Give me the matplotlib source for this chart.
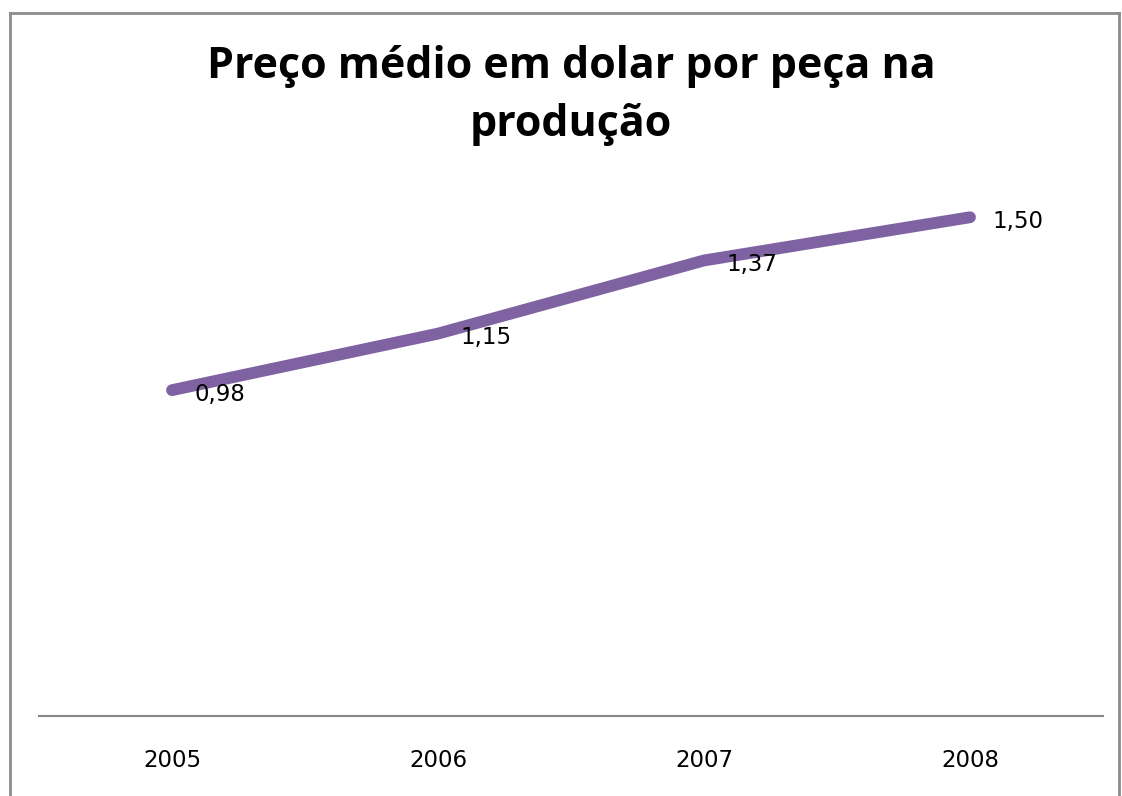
import matplotlib.pyplot as plt
from matplotlib.lines import Line2D

anos = ['2005', '2006', '2007', '2008']
precos = [0.98, 1.15, 1.37, 1.50]
rotulos = ['0,98', '1,15', '1,37', '1,50']

fig = plt.figure(figsize=(11.22, 7.96), dpi=100)
ax = fig.add_axes([39/1122, 80/796, 1064/1122, 532/796])

x = range(len(anos))
ax.plot(x, precos, color='#7E62A1', linewidth=8.5, solid_capstyle='round', solid_joinstyle='round')
for xi, yi, r in zip(x, precos, rotulos):
    ax.annotate(r, (xi, yi), xytext=(16, -3), textcoords='offset points',
                ha='left', va='center', fontsize=16.5, family='DejaVu Sans', color='black')

ax.set_xlim(-0.5, 3.5)
ax.set_ylim(0, 1.6)
ax.set_xticks(list(x))
ax.set_xticklabels(anos, fontsize=16.5, family='DejaVu Sans')
ax.tick_params(axis='x', length=0, pad=24)
ax.set_yticks([])
for s in ['top', 'right', 'left']:
    ax.spines[s].set_visible(False)
ax.spines['bottom'].set_color('#868686')
ax.spines['bottom'].set_linewidth(1.5)

fig.text(571/1122, 1 - 66/796, 'Preço médio em dolar por peça na', ha='center', va='center',
         fontsize=31, fontweight='bold', family='Open Sans')
fig.text(571/1122, 1 - 125/796, 'produção', ha='center', va='center',
         fontsize=31, fontweight='bold', family='Open Sans')

# moldura do gráfico
cor_borda = '#8C8C8C'
fig.add_artist(Line2D([9.5/1122, 9.5/1122], [0, 1 - 13/796], transform=fig.transFigure, color=cor_borda, lw=2))
fig.add_artist(Line2D([9.5/1122, 1119/1122], [1 - 13/796, 1 - 13/796], transform=fig.transFigure, color=cor_borda, lw=2))
fig.add_artist(Line2D([1119/1122, 1119/1122], [0, 1 - 13/796], transform=fig.transFigure, color=cor_borda, lw=2))

fig.savefig('out.png', dpi=100)
